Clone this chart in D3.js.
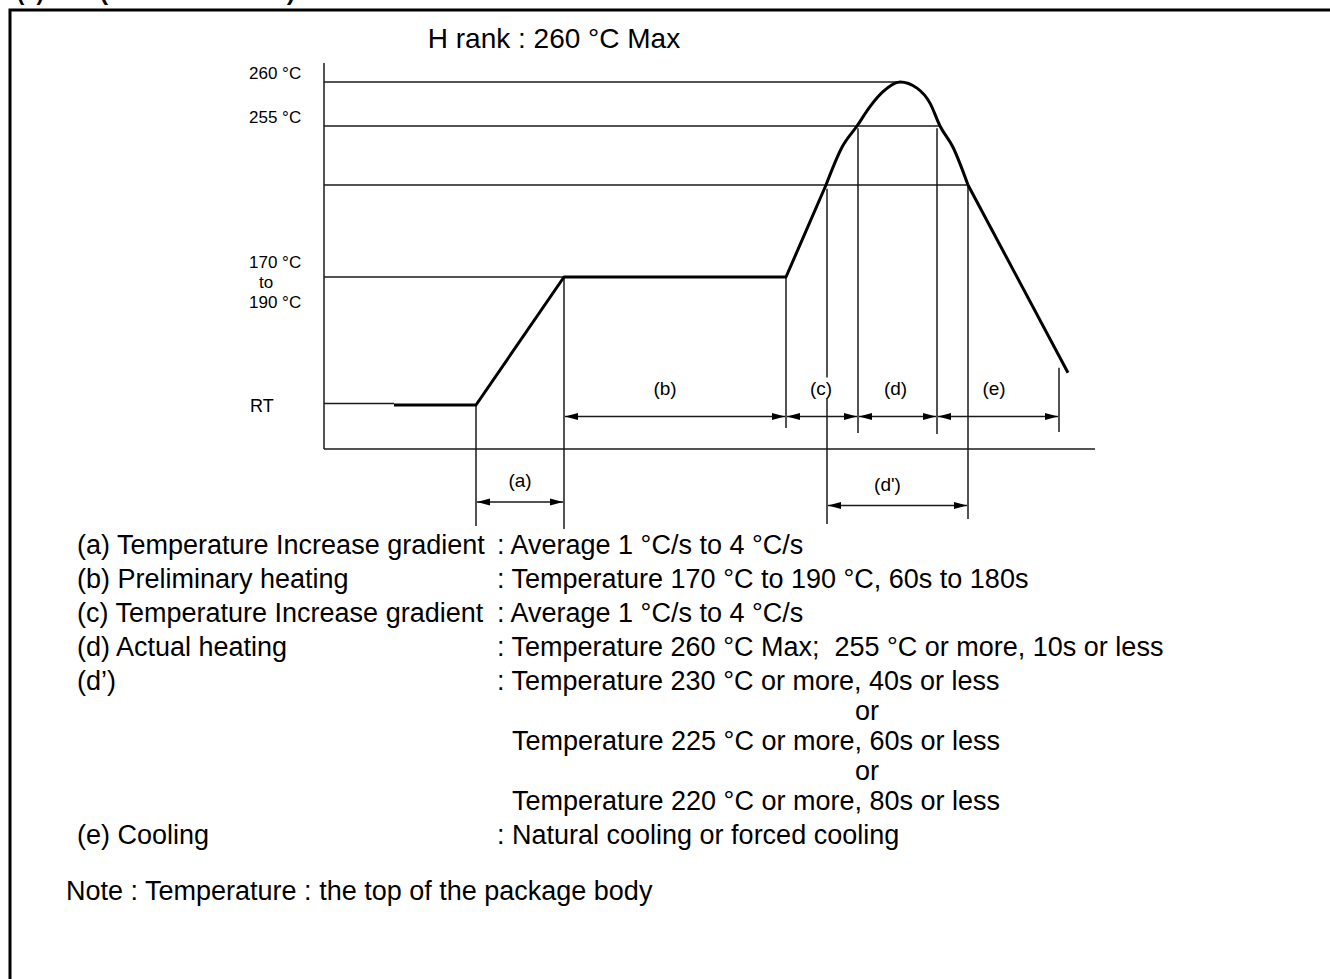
<!DOCTYPE html>
<html>
<head>
<meta charset="utf-8">
<script src="https://cdn.jsdelivr.net/npm/d3@7"></script>
<style>
  html, body { margin: 0; padding: 0; background: #fff; }
  svg { display: block; }
  text { font-family: "Liberation Sans", Arial, Helvetica, sans-serif; fill: #000; white-space: pre; }
</style>
</head>
<body>
<svg id="chart" width="1330" height="979"></svg>
<script>
// ---------------- DATA ----------------
const profileTime = [35, 76, 120, 231, 251, 259, 266.5, 273, 279.5, 288, 296.5, 303, 308, 314.5, 322, 372];
const profileTemp = [25, 25, 180, 180, 230, 246, 255, 257.2, 258.9, 260, 259.3, 257.6, 255, 246, 230, 64];

const levelTemps  = [25, 180, 230, 255, 260];          // reference temperature lines
const levelEnds   = [35, 120, 322, 308, 288];          // time where each line meets the curve
const tickLabels  = [["RT"], ["170 °C", "to", "190 °C"], [], ["255 °C"], ["260 °C"]];

const dimLabels = ["(a)", "(b)", "(c)", "(d)", "(e)", "(d')"];
const dimStart  = [76, 120, 231, 267, 306.5, 251.5];
const dimEnd    = [120, 231, 267, 306.5, 367.5, 322];
const dimRow    = ["low", "high", "high", "high", "high", "low2"];

const extTime   = [76, 120, 231, 251.5, 267, 306.5, 322, 367.5];
const extTopTemp= [25, 180, 180, 228, 254, 254, 230, 70];

const titleText = "H rank : 260 °C Max";

const descLeft  = ["(a) Temperature Increase gradient", "(b) Preliminary heating",
                   "(c) Temperature Increase gradient", "(d) Actual heating", "(d’)", "", "", "", "",
                   "(e) Cooling"];
const descRight = [": Average 1 °C/s to 4 °C/s",
                   ": Temperature 170 °C to 190 °C, 60s to 180s",
                   ": Average 1 °C/s to 4 °C/s",
                   ": Temperature 260 °C Max;  255 °C or more, 10s or less",
                   ": Temperature 230 °C or more, 40s or less",
                   "or",
                   "Temperature 225 °C or more, 60s or less",
                   "or",
                   "Temperature 220 °C or more, 80s or less",
                   ": Natural cooling or forced cooling"];
const noteText = "Note : Temperature : the top of the package body";

// ---------------- LAYOUT ----------------
const svg = d3.select("#chart");
const x = d3.scaleLinear().domain([0, 385.5]).range([324, 1095]);
const y = d3.scaleLinear().domain([-30, 25, 180, 230, 255, 260, 262.2])
                          .range([449, 405, 277, 185, 126, 82, 63]);
const rowY = { high: 416.5, low: 502, low2: 505.5 };
const lineCol = "#1a1a1a";

// defs: arrow markers
const defs = svg.append("defs");
function marker(id, kind) {
  defs.append("marker").attr("id", id)
    .attr("viewBox", "0 0 13 8").attr("refX", kind === "end" ? 13 : 0).attr("refY", 4)
    .attr("markerUnits", "userSpaceOnUse").attr("markerWidth", 13).attr("markerHeight", 8)
    .attr("orient", "auto")
    .append("path")
    .attr("d", kind === "end" ? "M0,0.5 L13,4 L0,7.5 Z" : "M13,0.5 L0,4 L13,7.5 Z")
    .attr("fill", "#000");
}
marker("arrEnd", "end");
marker("arrStart", "start");

// frame (only top & left visible)
svg.append("path").attr("d", "M10,979 L10,10 L1330,10")
  .attr("fill", "none").attr("stroke", "#000").attr("stroke-width", 3);

// cut-off heading above frame
const head = svg.append("g").attr("font-weight", "bold").attr("font-size", 22);
head.append("text").attr("x", 17).attr("y", 0).text("(4)");
head.append("text").attr("x", 100).attr("y", 0).attr("textLength", 195)
  .attr("lengthAdjust", "spacingAndGlyphs").text("(Infrared Reflow)");

// axes
svg.append("line").attr("x1", x(0)).attr("x2", x(0)).attr("y1", y(262.2)).attr("y2", y(-30))
  .attr("stroke", lineCol).attr("stroke-width", 1.5);
svg.append("line").attr("x1", x(0)).attr("x2", x(385.5)).attr("y1", y(-30)).attr("y2", y(-30))
  .attr("stroke", lineCol).attr("stroke-width", 1.5);

// reference temperature lines
svg.append("g").selectAll("line").data(levelTemps).join("line")
  .attr("x1", x(0)).attr("x2", (d, i) => x(levelEnds[i]))
  .attr("y1", d => y(d) - (d === 25 ? 1.5 : 0)).attr("y2", d => y(d) - (d === 25 ? 1.5 : 0))
  .attr("stroke", lineCol).attr("stroke-width", 1.5);

// tick labels
const tl = svg.append("g").attr("font-size", 17);
levelTemps.forEach((t, i) => {
  const lines = tickLabels[i];
  if (!lines.length) return;
  if (lines.length === 1) {
    tl.append("text").attr("x", t === 25 ? 250 : 249)
      .attr("font-size", t === 25 ? 18 : 17)
      .attr("y", t === 25 ? y(t) + 7 : y(t) - 3).text(lines[0]);
  } else {
    lines.forEach((s, j) => {
      tl.append("text").attr("x", j === 1 ? 266 : 249)
        .attr("text-anchor", j === 1 ? "middle" : "start")
        .attr("y", y(t) - 9 + j * 20).text(s);
    });
  }
});

// extension lines
const extBottom = [526, 529, 428, 524, 433, 434, 519, 432];
svg.append("g").selectAll("line").data(extTime).join("line")
  .attr("x1", d => x(d)).attr("x2", d => x(d))
  .attr("y1", (d, i) => y(extTopTemp[i])).attr("y2", (d, i) => extBottom[i])
  .attr("stroke", lineCol).attr("stroke-width", 1.5);

// dimension arrows
const dims = dimLabels.map((l, i) => ({ l, t0: dimStart[i], t1: dimEnd[i], row: dimRow[i] }));
const dg = svg.append("g");
dg.selectAll("line").data(dims).join("line")
  .attr("x1", d => x(d.t0) + 1).attr("x2", d => x(d.t1) - 1)
  .attr("y1", d => rowY[d.row]).attr("y2", d => rowY[d.row])
  .attr("stroke", lineCol).attr("stroke-width", 1.5)
  .attr("marker-start", "url(#arrStart)").attr("marker-end", "url(#arrEnd)");
const labOff = { "(a)": 0, "(b)": -10, "(c)": -1, "(d)": -2, "(e)": -4, "(d')": -10 };
dims.forEach(d => {
  const cx = (x(d.t0) + x(d.t1)) / 2 + labOff[d.l];
  const by = rowY[d.row] - (d.row === "high" ? 22 : 15);
  const t = dg.append("text").attr("x", cx).attr("y", by).attr("text-anchor", "middle")
    .attr("font-size", 19).text(d.l);
  if (d.l === "(c)") {
    const bb = t.node().getBBox();
    dg.insert("rect", "text").attr("x", bb.x - 1).attr("y", bb.y).attr("width", bb.width + 2)
      .attr("height", bb.height).attr("fill", "#fff");
  }
});

// temperature profile
const pts = profileTime.map((t, i) => [x(t), y(profileTemp[i])]);
const lin = d3.line().curve(d3.curveLinear);
const smooth = d3.line().curve(d3.curveMonotoneX);
const prof = svg.append("g").attr("fill", "none").attr("stroke", "#000").attr("stroke-width", 3)
  .attr("stroke-linejoin", "round");
prof.append("path").attr("d", lin(pts.slice(0, 5)));
prof.append("path").attr("d", smooth(pts.slice(4, 15)));
prof.append("path").attr("d", lin(pts.slice(14)));

// title
svg.append("text").attr("x", 554).attr("y", 48).attr("text-anchor", "middle")
  .attr("font-size", 28).text(titleText);

// description
const dsc = svg.append("g").attr("font-size", 27);
const rowBase = [554, 588, 622, 656, 690, 720, 750, 780, 810, 844];
descLeft.forEach((s, i) => {
  if (s) dsc.append("text").attr("x", 77).attr("y", rowBase[i]).text(s);
});
descRight.forEach((s, i) => {
  const isOr = (i === 5 || i === 7);
  const isSub = (i === 6 || i === 8);
  dsc.append("text")
    .attr("x", isOr ? 855 : isSub ? 512 : 497)
    .attr("y", rowBase[i]).text(s);
});
dsc.append("text").attr("x", 66).attr("y", 900).text(noteText);
</script>
</body>
</html>
